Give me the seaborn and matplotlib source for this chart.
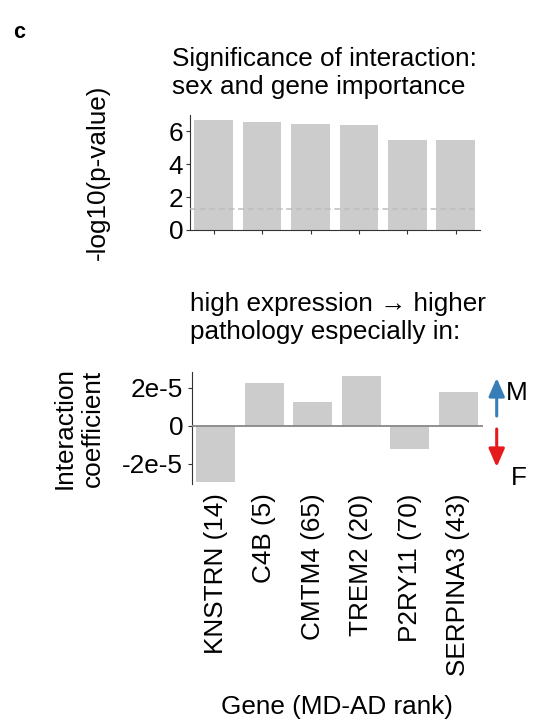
import matplotlib
matplotlib.use("Agg")
import matplotlib.pyplot as plt
import seaborn as sns
import pandas as pd

sns.set_style("ticks")
plt.rcParams['font.family'] = ['Liberation Sans', 'DejaVu Sans']
plt.rcParams['text.color'] = 'black'
plt.rcParams['axes.labelcolor'] = 'black'
plt.rcParams['xtick.color'] = 'black'
plt.rcParams['ytick.color'] = 'black'

genes = ["KNSTRN (14)", "C4B (5)", "CMTM4 (65)", "TREM2 (20)", "P2RY11 (70)", "SERPINA3 (43)"]
neglog10_p = [6.69, 6.58, 6.46, 6.40, 5.50, 5.50]
interaction_coef = [-2.95e-5, 2.26e-5, 1.23e-5, 2.62e-5, -1.24e-5, 1.77e-5]
sig_threshold = 1.30
top_yticks = [0, 2, 4, 6]
bot_yticks = [-2e-5, 0, 2e-5]
bot_yticklabels = ["-2e-5", "0", "2e-5"]

df = pd.DataFrame({"gene": genes, "p": neglog10_p, "coef": interaction_coef})

FS = 18.8
BAR = "#cccccc"
W, H = 534, 719
fig = plt.figure(figsize=(W / 100, H / 100), dpi=100)

def fx(px):
    return px / W

def fy(py):
    return 1 - py / H

ax1 = fig.add_axes([fx(189.5), fy(230), fx(480) - fx(189.5), fy(115) - fy(230)])
ax2 = fig.add_axes([fx(191.5), fy(484.3), fx(482.5) - fx(191.5), fy(371.7) - fy(484.3)])

# top panel
sns.barplot(data=df, x="gene", y="p", color=BAR, saturation=1, width=0.8, ax=ax1, edgecolor="none")
ax1.axhline(sig_threshold, xmax=0.98, color="#bdbdbd", lw=1.1, linestyle=(0, (3.9, 2.4)), zorder=3)
ax1.set_xlim(-0.5, 5.5)
ax1.set_ylim(0, 7.0)
ax1.set_yticks(top_yticks)
ax1.set_yticklabels([str(t) for t in top_yticks], fontsize=FS)
ax1.tick_params(axis="x", labelbottom=False, length=3, width=0.8, color="#333333")
ax1.tick_params(axis="y", length=3, width=0.8, pad=1.5, color="#333333")
ax1.set_xlabel("")
ax1.set_ylabel("-log10(p-value)", fontsize=FS, va="center")
ax1.yaxis.set_label_coords((98 - 189.5) / 290.5, 0.5)
sns.despine(ax=ax1)
for s in ["left", "bottom"]:
    ax1.spines[s].set_color("#333333")
    ax1.spines[s].set_linewidth(0.8)

# bottom panel
sns.barplot(data=df, x="gene", y="coef", color=BAR, saturation=1, width=0.8, ax=ax2, edgecolor="none")
ax2.axhline(0, color="#888888", lw=1.3, zorder=3)
ax2.set_xlim(-0.5, 5.5)
ax2.set_ylim(-3.08e-5, 2.84e-5)
ax2.set_yticks(bot_yticks)
ax2.set_yticklabels(bot_yticklabels, fontsize=FS)
ax2.set_xticks(range(len(genes)))
ax2.set_xticklabels(genes, rotation=90, fontsize=FS)
ax2.tick_params(axis="x", length=0, pad=6.5)
ax2.tick_params(axis="y", length=3, width=0.8, pad=3, color="#333333")
ax2.set_xlabel("Gene (MD-AD rank)", fontsize=FS, labelpad=14)
ax2.set_ylabel("Interaction\ncoefficient", fontsize=FS, va="center", ha="center", multialignment="center")
ax2.yaxis.set_label_coords((79 - 191.5) / 291, 0.5)
sns.despine(ax=ax2, bottom=True)
ax2.spines["left"].set_color("#333333")
ax2.spines["left"].set_linewidth(0.8)

# titles
fig.text(fx(172), fy(47), "Significance of interaction:\nsex and gene importance",
         fontsize=FS, ha="left", va="top")
fig.text(fx(190), fy(292), "high expression \u2192 higher\npathology especially in:",
         fontsize=FS, ha="left", va="top")
fig.text(fx(13), fy(22), "c", fontsize=15.5, fontweight="bold", ha="left", va="top")

# sex arrows
arrow_kw = dict(arrowstyle="-|>,head_length=0.55,head_width=0.24", lw=2.2,
                shrinkA=0, shrinkB=0, mutation_scale=20)
ax2.annotate("", xy=(fx(496.7), fy(378)), xytext=(fx(496.7), fy(416)),
             xycoords="figure fraction", textcoords="figure fraction",
             arrowprops=dict(color="#377eb8", **arrow_kw), annotation_clip=False)
ax2.annotate("", xy=(fx(496.7), fy(467)), xytext=(fx(496.7), fy(429)),
             xycoords="figure fraction", textcoords="figure fraction",
             arrowprops=dict(color="#e41a1c", **arrow_kw), annotation_clip=False)
fig.text(fx(506), fy(400), "M", fontsize=FS, ha="left", va="baseline")
fig.text(fx(511), fy(485), "F", fontsize=FS, ha="left", va="baseline")

fig.savefig("out.png", dpi=100)
